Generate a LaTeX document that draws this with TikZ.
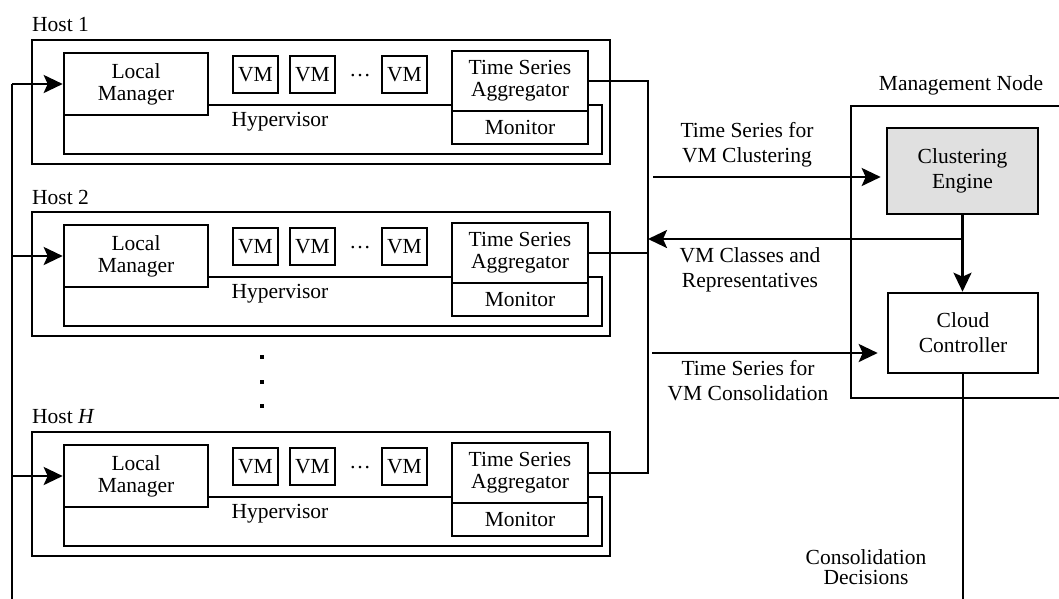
\documentclass[tikz,border=0pt]{standalone}
\usepackage{fontspec}
\setmainfont{Liberation Serif}
\usetikzlibrary{arrows.meta}
\definecolor{cegray}{RGB}{224,224,224}
\tikzset{
  box/.style={draw, line width=2.6pt, fill=white, inner sep=0pt, align=center, font=\fontsize{21.5}{22}\selectfont},
  frame/.style={draw, line width=2.6pt, inner sep=0pt},
  mbox/.style={draw, line width=2.6pt, fill=white, inner sep=0pt, align=center, font=\fontsize{21.5}{25}\selectfont},
  lbl/.style={inner sep=0pt, align=center, font=\fontsize{21.5}{25}\selectfont},
  conn/.style={line width=2.6pt},
  arr/.style={conn, -{Stealth[length=19pt,width=18pt,inset=4pt]}},
}
\newcommand\hostblock[3]{%
  \node[frame, minimum width=578, minimum height=124] (host#1) at (321,{#2+62}) {};
  \node[lbl, anchor=west] (hostlbl#1) at (32,{#2-15}) {#3};
  \node[frame, line width=2.2pt, minimum width=538, minimum height=49] (hyp#1) at (333,{#2+89.5}) {};
  \node[box, minimum width=144, minimum height=62] (lm#1) at (136,{#2+44}) {Local\\Manager};
  \node[box, minimum width=136, minimum height=60] (agg#1) at (520,{#2+41}) {Time Series\\Aggregator};
  \node[box, minimum width=136, minimum height=33] (mon#1) at (520,{#2+87.5}) {Monitor};
  \node[box, minimum width=45, minimum height=37] (vma#1) at (255.5,{#2+34.5}) {VM};
  \node[box, minimum width=45, minimum height=37] (vmb#1) at (312.5,{#2+34.5}) {VM};
  \node[box, minimum width=45, minimum height=37] (vmc#1) at (404.5,{#2+34.5}) {VM};
  \node[lbl, anchor=base] (dots#1) at (360,{#2+36}) {\dots};
  \node[lbl] (hyplbl#1) at (280,{#2+82}) {Hypervisor};
}
\begin{document}
\begin{tikzpicture}[x=1pt,y=-1pt]
\clip (0,0) rectangle (1059,598);
\fill[white] (0,0) rectangle (1059,598);

\hostblock{1}{40}{Host 1}
\hostblock{2}{212}{Host 2}
\hostblock{3}{432}{Host \textit{H}}

% vertical dots
\foreach \yy [count=\i] in {357,382,406} \node[fill=black, inner sep=0pt, minimum size=3.4pt] (vd\i) at (262,\yy) {};

% management node
\node[frame, minimum width=224, minimum height=292] (mgmt) at (963,252) {};
\node[lbl] (mgmtlbl) at (961,85) {Management Node};
\node[mbox, fill=cegray, minimum width=151, minimum height=86] (ce) at (962.5,171) {Clustering\\Engine};
\node[mbox, minimum width=150, minimum height=80] (cc) at (963,333) {Cloud\\Controller};

% coordinates
\coordinate (busx) at (648,0);
\coordinate (fbx) at (12,0);
\coordinate (bottom) at (0,620);

% aggregator bus
\draw[conn] (agg1.east) -- (agg1.east -| busx) -- (agg3.east -| busx) -- (agg3.east);
\draw[conn] (agg2.east) -- (agg2.east -| busx);

% feedback bus to local managers
\draw[conn] (lm1.west -| fbx) -- (fbx |- bottom);
\draw[arr] (lm1.west -| fbx) -- (lm1.west);
\draw[arr] (lm2.west -| fbx) -- (lm2.west);
\draw[arr] (lm3.west -| fbx) -- (lm3.west);

% flows to / from management node
\coordinate (tsc) at (653,177);
\draw[arr, shorten >=5pt] (tsc) -- (tsc -| ce.west);
\node[lbl] (tsclbl) at (747,144.5) {Time Series for\\VM Clustering};

\coordinate (vcs) at (ce.south |- 0,239);
\draw[arr] (vcs) -- (vcs -| busx);
\node[lbl] (vclbl) at (750,269.5) {VM Classes and\\Representatives};

\draw[arr] (ce.south) -- (ce.south |- cc.north);

\coordinate (tsv) at (652,353);
\draw[arr, shorten >=9pt] (tsv) -- (tsv -| cc.west);
\node[lbl] (tsvlbl) at (748,380.5) {Time Series for\\VM Consolidation};

\draw[conn] (cc.south) -- (cc.south |- bottom);
\node[lbl, font=\fontsize{21.5}{20}\selectfont] (cdlbl) at (866,567) {Consolidation\\Decisions};
\end{tikzpicture}
\end{document}
